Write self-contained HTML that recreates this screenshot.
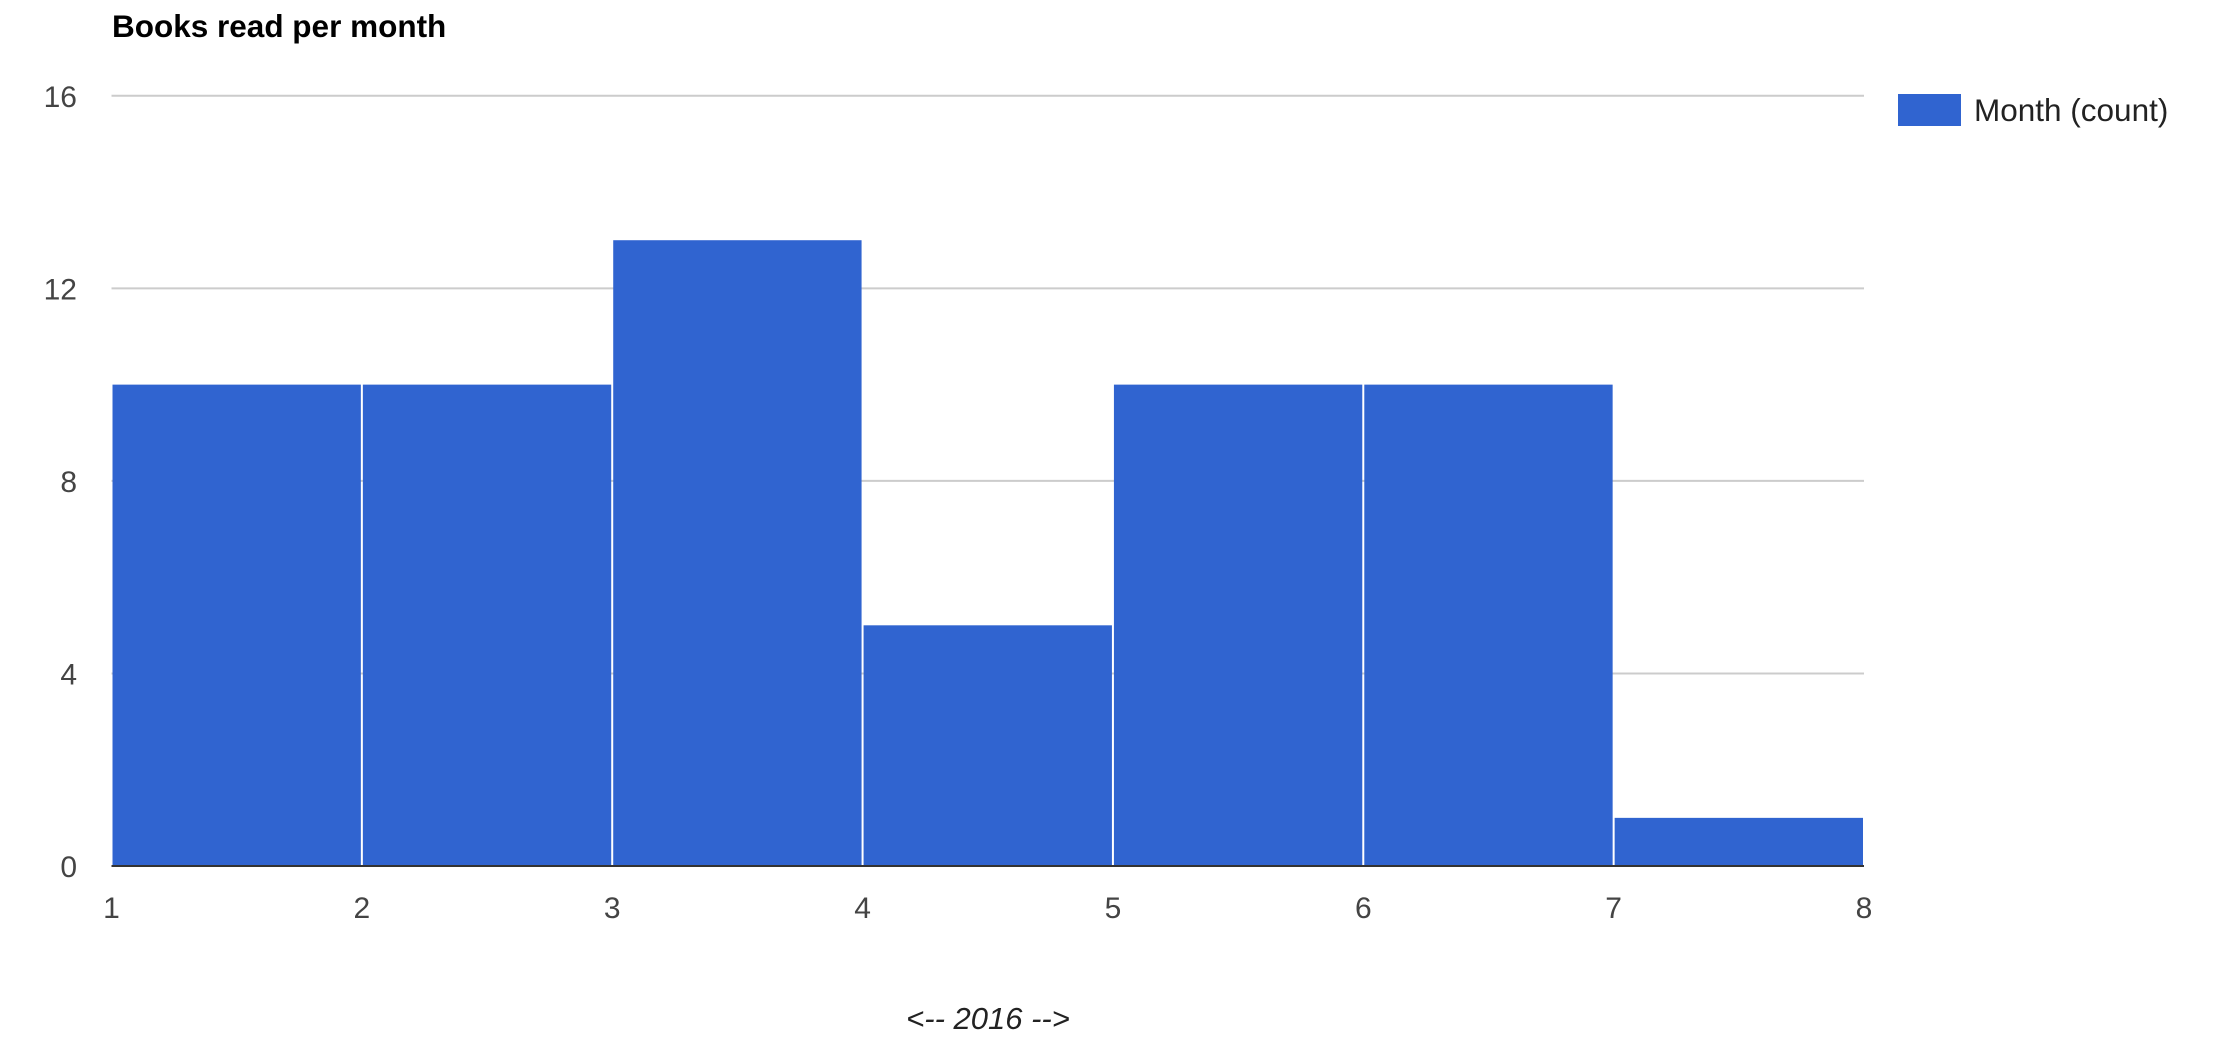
<!DOCTYPE html>
<html><head><meta charset="utf-8"><style>
html,body{margin:0;padding:0;background:#fff;}
svg{display:block;font-family:"Liberation Sans",Arial,sans-serif;}
</style></head><body>
<svg id="chart" width="2230" height="1044" viewBox="0 0 2230 1044" xmlns="http://www.w3.org/2000/svg">
<text x="112" y="37" font-size="31.5" font-weight="bold" fill="#000">Books read per month</text>
<g id="grid"></g><g id="bars"></g><g id="axes"></g>
<rect x="1898" y="94" width="63" height="32" fill="#3064d0"/>
<text x="1974" y="121" font-size="31.5" fill="#222">Month (count)</text>
<text x="988" y="1029" font-size="31" font-style="italic" fill="#222" text-anchor="middle">&lt;-- 2016 --&gt;</text>
</svg>
<script>
const binStarts = [1,2,3,4,5,6,7];
const counts = [10,10,13,5,10,10,1];
const yTicks = [0,4,8,12,16];
const xTicks = [1,2,3,4,5,6,7,8];
const NS="http://www.w3.org/2000/svg";
const L=111.5,R=1864,T=95.8,B=866;
const xs=v=>L+(v-1)/7*(R-L);
const ys=v=>B-v/16*(B-T);
function mk(t,a,p){const e=document.createElementNS(NS,t);for(const k in a)e.setAttribute(k,a[k]);p.appendChild(e);return e;}
const grid=document.getElementById('grid'),bars=document.getElementById('bars'),axes=document.getElementById('axes');
yTicks.forEach(v=>{
 if(v>0){const g=mk('line',{x1:L,x2:R,y1:ys(v),y2:ys(v),stroke:'#cccccc','stroke-width':2},grid);
 
 }
 const t=mk('text',{x:77,y:ys(v)+11,'font-size':30,fill:'#444','text-anchor':'end'},axes);
 t.textContent=v;
 
 
});
binStarts.forEach((s,i)=>{
 const x0=xs(s),x1=xs(s+1);
 const r=mk('rect',{x:x0+1,y:ys(counts[i]),width:x1-x0-2,height:B-ys(counts[i]),fill:'#3064d0'},bars);
 
 
});
const ax=mk('line',{x1:L,x2:R,y1:B,y2:B,stroke:'#333','stroke-width':2},axes);


xTicks.forEach(v=>{
 const t=mk('text',{x:xs(v),y:918,'font-size':30,fill:'#444','text-anchor':'middle'},axes);
 t.textContent=v;
 
 
});
</script>
</body></html>
